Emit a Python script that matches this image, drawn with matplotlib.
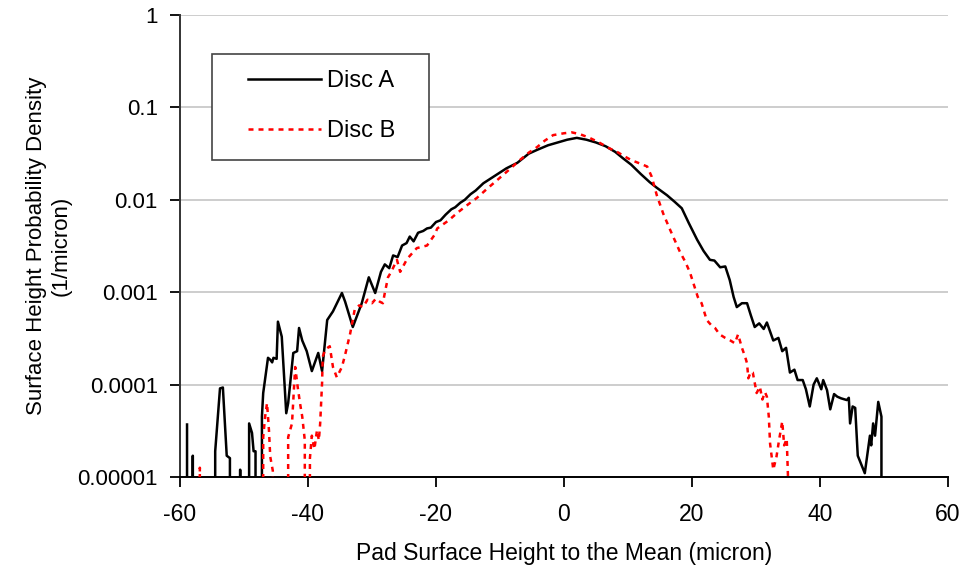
import matplotlib
matplotlib.use("Agg")
import matplotlib.pyplot as plt
from matplotlib.patches import Rectangle

# ---------- data (0 = no counts, drops to the axis) ----------
disc_a_x = [-58.9, -58.5, -58.0, -57.7, -54.8, -54.5, -53.75, -53.3, -52.7, -52.2,
            -51.7, -50.6, -49.8, -49.2, -48.75, -48.5, -48.2, -47.8, -47.2, -47.0,
            -46.25, -45.9, -45.6, -45.4, -44.9, -44.7, -44.1, -43.4, -43.1, -42.3,
            -41.7, -41.4, -40.9, -40.2, -39.4, -38.4, -37.8, -37.0, -36.1, -34.7,
            -34.2, -33.0, -31.6, -30.5, -29.5, -28.6, -28.0, -27.3, -26.7, -26.0,
            -25.3, -24.6, -24.1, -23.5, -22.8, -22.0, -21.4, -20.8, -20.0, -19.3,
            -18.5, -17.6, -17.0, -16.2, -15.5, -14.6, -13.8, -12.6, -11.0, -9.0,
            -7.3, -5.5, -4.2, -2.5, -1.0, 0.5, 2.0,
            3.5, 5.0, 6.5, 8.0, 9.2, 10.5, 12.0, 13.4, 14.5, 16.1,
            17.3, 18.4, 19.5, 20.8, 21.8, 22.8, 23.5, 24.4, 25.2, 25.9,
            26.5, 27.0, 27.8, 28.6, 29.2, 29.8, 30.5, 31.2, 31.7, 32.7,
            33.5, 34.1, 34.7, 35.3, 36.0, 36.5, 37.3, 37.8, 38.4, 39.0,
            39.5, 40.2, 40.5, 41.1, 41.6, 42.2, 42.7, 43.3, 44.2, 44.5,
            44.7, 45.1, 45.5, 45.9, 47.0, 47.8, 48.0, 48.3, 48.6, 49.1,
            49.6, 49.8]
disc_a_y = [3.7e-5, 0, 1.7e-5, 0, 0, 1.9e-5, 9.1e-5, 9.3e-5, 1.7e-5, 1.6e-5,
            0, 1.2e-5, 0, 3.8e-5, 3.0e-5, 1.9e-5, 1.9e-5, 0, 4.5e-5, 8.1e-5,
            1.95e-4, 1.86e-4, 1.74e-4, 1.95e-4, 1.9e-4, 4.8e-4, 3.3e-4, 4.9e-5, 6.3e-5, 2.2e-4,
            2.3e-4, 4.1e-4, 3.0e-4, 2.3e-4, 1.4e-4, 2.2e-4, 1.4e-4, 5.0e-4, 6.2e-4, 9.8e-4,
            7.9e-4, 4.2e-4, 7.6e-4, 1.45e-3, 9.8e-4, 1.66e-3, 2.0e-3, 1.82e-3, 2.5e-3, 2.4e-3,
            3.2e-3, 3.4e-3, 4.0e-3, 3.55e-3, 4.4e-3, 4.6e-3, 4.9e-3, 5.0e-3, 5.75e-3, 6.0e-3,
            6.9e-3, 7.9e-3, 8.3e-3, 9.3e-3, 0.0100, 0.0115, 0.0126, 0.0151, 0.0178, 0.0219,
            0.0251, 0.0316, 0.0347, 0.0389, 0.0417, 0.0447, 0.0468,
            0.0447, 0.0417, 0.038, 0.033, 0.0282, 0.024, 0.019, 0.0155, 0.0135, 0.0112,
            9.5e-3, 8.1e-3, 5.6e-3, 3.7e-3, 2.8e-3, 2.24e-3, 2.2e-3, 1.86e-3, 1.9e-3, 1.35e-3,
            8.9e-4, 6.9e-4, 7.6e-4, 7.6e-4, 5.6e-4, 4.2e-4, 4.6e-4, 4.0e-4, 4.7e-4, 3.0e-4,
            3.2e-4, 2.3e-4, 2.5e-4, 1.35e-4, 1.45e-4, 1.12e-4, 1.12e-4, 8.9e-5, 5.8e-5, 1.0e-4,
            1.17e-4, 8.9e-5, 1.12e-4, 8.7e-5, 5.4e-5, 7.9e-5, 7.4e-5, 7.1e-5, 6.8e-5, 7.2e-5,
            3.8e-5, 5.8e-5, 5.6e-5, 1.7e-5, 1.1e-5, 2.8e-5, 2.2e-5, 3.8e-5, 2.8e-5, 6.5e-5,
            4.5e-5, 0]

disc_b_x = [-57.0, -56.9, -56.8, -47.2, -47.0, -46.7, -46.4, -46.1, -45.9, -45.5,
            -45.2, -43.3, -43.1, -42.5, -42.2, -42.0, -41.6, -41.25, -40.9, -40.5,
            -40.0, -39.7, -39.4, -39.0, -38.6, -38.3, -38.1, -37.8, -37.7, -37.3,
            -36.6, -36.1, -35.5, -34.7, -34.2, -33.4, -32.7, -32.0, -31.4, -30.7,
            -30.0, -29.4, -28.8, -28.3, -28.0, -27.5, -27.0, -26.1, -25.6, -24.5,
            -23.0, -21.4, -20.2, -19.8, -18.0, -16.7, -15.0, -13.6, -12.0, -10.5,
            -8.5, -6.9, -5.5, -4.2, -3.0, -1.7, 0.0, 1.2, 2.5, 4.0,
            5.5, 7.0, 8.5, 9.2, 10.5, 12.0, 13.0, 13.7, 14.5, 15.5,
            16.6, 18.1, 19.0, 19.7, 20.9, 21.5, 22.3, 23.0, 23.6, 24.3,
            25.2, 26.0, 26.7, 27.2, 27.8, 28.3, 28.6, 28.8, 29.2, 29.5,
            30.1, 30.6, 31.0, 31.4, 31.7, 32.0, 32.2, 32.7, 33.2, 33.6,
            34.1, 34.4, 34.8, 35.0, 35.1]
disc_b_y = [0, 1.26e-5, 0, 0, 2.7e-5, 4.5e-5, 6.3e-5, 3.2e-5, 1.66e-5, 1.17e-5,
            0, 0, 2.7e-5, 3.8e-5, 8.9e-5, 1.55e-4, 9.3e-5, 6.3e-5, 4.5e-5, 2.5e-5,
            0, 1.6e-5, 2.8e-5, 2.0e-5, 3.2e-5, 2.5e-5, 3.8e-5, 1.05e-4, 2.0e-4, 2.4e-4,
            2.6e-4, 1.55e-4, 1.2e-4, 1.55e-4, 2.1e-4, 3.6e-4, 6.5e-4, 7.2e-4, 6.9e-4, 8.3e-4,
            7.6e-4, 8.5e-4, 7.9e-4, 7.6e-4, 9.8e-4, 1.45e-3, 1.66e-3, 2.24e-3, 1.66e-3, 2.3e-3,
            3.0e-3, 3.2e-3, 4.2e-3, 4.9e-3, 6.0e-3, 7.2e-3, 8.9e-3, 0.0105, 0.0132, 0.0162,
            0.0214, 0.0269, 0.0324, 0.0372, 0.0437, 0.0501, 0.0525, 0.0537, 0.0513, 0.0468,
            0.0417, 0.0363, 0.0324, 0.0302, 0.0269, 0.0245, 0.0229, 0.0178, 0.0112, 7.1e-3,
            4.7e-3, 2.75e-3, 2.1e-3, 1.62e-3, 8.9e-4, 7.6e-4, 5.0e-4, 4.4e-4, 4.1e-4, 3.5e-4,
            3.2e-4, 3.0e-4, 2.8e-4, 3.5e-4, 2.5e-4, 2.0e-4, 1.7e-4, 1.17e-4, 1.38e-4, 1.35e-4,
            8.1e-5, 9.5e-5, 6.9e-5, 8.3e-5, 7.4e-5, 4.5e-5, 2.3e-5, 1.2e-5, 1.66e-5, 2.5e-5,
            4.0e-5, 2.2e-5, 2.6e-5, 1.0e-5, 0]

x_ticks = [-60, -40, -20, 0, 20, 40, 60]
x_tick_labels = ["-60", "-40", "-20", "0", "20", "40", "60"]
y_ticks = [1e-5, 1e-4, 1e-3, 1e-2, 1e-1, 1]
y_tick_labels = ["0.00001", "0.0001", "0.001", "0.01", "0.1", "1"]

# ---------- figure ----------
plt.rcParams["font.family"] = ["Liberation Sans", "DejaVu Sans"]

fig = plt.figure(figsize=(9.68, 5.68), dpi=100)
ax = fig.add_axes([180 / 968, 1 - 477 / 568, 768 / 968, 462 / 568])

ax.plot(disc_a_x, disc_a_y, color="black", linewidth=1.8, label="Disc A", zorder=4)
ax.plot(disc_b_x, disc_b_y, color="#ff0000", linewidth=1.8, linestyle=(0, (2.0, 2.0)),
        label="Disc B", zorder=5)

ax.set_yscale("log", nonpositive="clip")
ax.set_xlim(-60, 60)
ax.set_ylim(1e-5, 1)
ax.set_xticks(x_ticks)
ax.set_xticklabels(x_tick_labels)
ax.set_yticks(y_ticks)
ax.set_yticklabels(y_tick_labels)
ax.minorticks_off()

ax.tick_params(axis="x", direction="out", length=7, width=1.3, pad=12, labelsize=16.5)
ax.tick_params(axis="y", direction="out", length=7, width=1.3, pad=9, labelsize=16)

ax.yaxis.grid(True, color="#c0c0c0", linewidth=1.1)
ax.set_axisbelow(True)
for side in ["top", "right"]:
    ax.spines[side].set_visible(False)
ax.spines["left"].set_linewidth(1.4)
ax.spines["bottom"].set_linewidth(1.4)
ax.spines["left"].set_color("#333333")

ax.set_xlabel("Pad Surface Height to the Mean (micron)", fontsize=16.5)
ax.xaxis.set_label_coords(0.5, -0.141)
ax.set_ylabel("Surface Height Probability Density\n(1/micron)", fontsize=16,
              linespacing=1.25)
ax.yaxis.set_label_coords(-0.141, 0.5)

# legend box (fixed size, like the reference) + entries
ax.add_patch(Rectangle((32 / 768, 1 - 145 / 462), 217 / 768, 106 / 462,
                       transform=ax.transAxes, facecolor="white", edgecolor="#444444",
                       linewidth=1.2, zorder=3))
leg = ax.legend(loc="upper left", bbox_to_anchor=(68 / 768, 1 - 55 / 462),
                frameon=False, fontsize=17, handlelength=3.1, handletextpad=0.25,
                labelspacing=1.2, borderpad=0, borderaxespad=0)
leg.set_zorder(6)

fig.savefig("out.png", dpi=100)
